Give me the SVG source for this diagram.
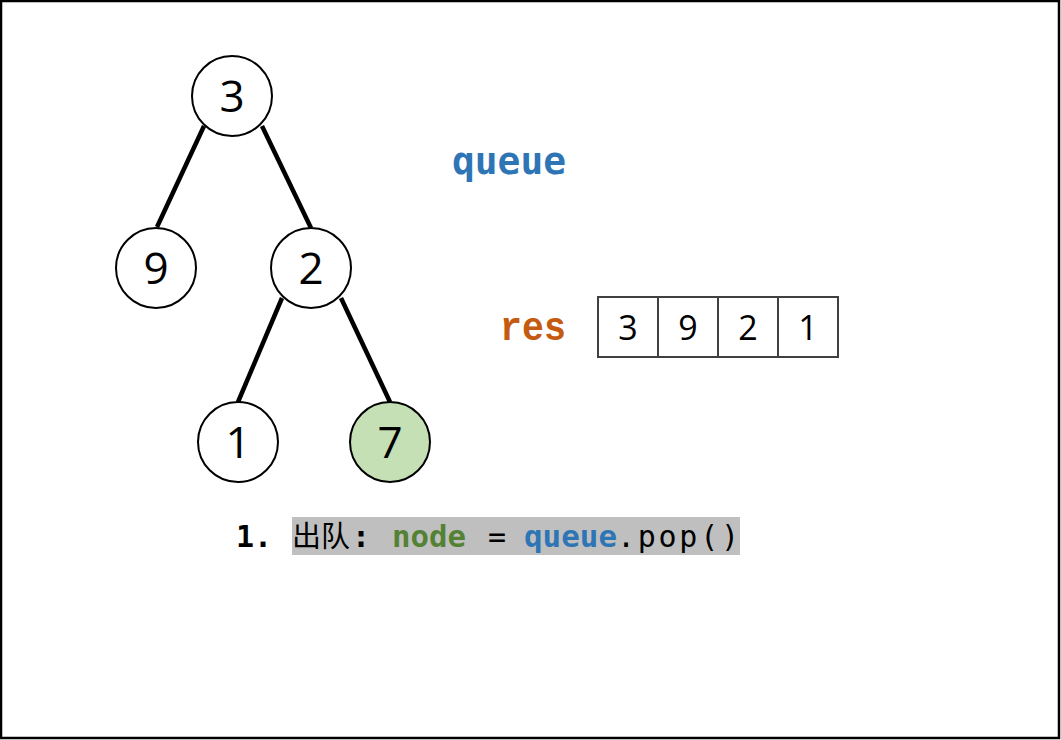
<svg xmlns="http://www.w3.org/2000/svg" width="1061" height="740" viewBox="0 0 1061 740">
<style>
.node circle{fill:#fff;stroke:#000;stroke-width:2}
.node text{font-family:"Open Sans","Liberation Sans",sans-serif;font-size:44px;text-anchor:middle;fill:#000}
.edge{stroke:#000;stroke-width:4.5;stroke-linecap:butt}
.cell rect{fill:#fff;stroke:#404040;stroke-width:2}
.cell text{font-family:"Open Sans","Liberation Sans",sans-serif;font-size:34px;text-anchor:middle;fill:#000}
.mono{font-family:"DejaVu Sans Mono","Liberation Mono",monospace;font-size:30px}
.b{font-weight:bold}
</style>
<rect x="1" y="1" width="1058" height="737" fill="#fff" stroke="#000" stroke-width="2.5"/>
<g id="connectors">
<line class="edge" x1="204" y1="126" x2="157" y2="227"/>
<line class="edge" x1="262" y1="126" x2="311" y2="228"/>
<line class="edge" x1="282" y1="298" x2="238" y2="402"/>
<line class="edge" x1="341" y1="298" x2="390" y2="402"/>
</g>
<g id="node3" class="node"><circle cx="232" cy="96" r="40"/><text x="232" y="112">3</text></g>
<g id="node9" class="node"><circle cx="156" cy="268" r="40"/><text x="156" y="284">9</text></g>
<g id="node2" class="node"><circle cx="311" cy="268" r="40"/><text x="311" y="284">2</text></g>
<g id="node1" class="node"><circle cx="238" cy="442" r="40"/><text x="238" y="458">1</text></g>
<g id="node7" class="node"><circle cx="390" cy="442" r="40" style="fill:#c5e0b4"/><text x="390" y="458">7</text></g>
<g id="queue-label"><text x="452" y="174" font-family="DejaVu Sans Mono,monospace" font-weight="bold" font-size="37" fill="#2e75b6" textLength="114" lengthAdjust="spacingAndGlyphs">queue</text></g>
<g id="res-label"><text x="500" y="340" font-family="Liberation Mono,Courier New,monospace" font-weight="bold" font-size="40" fill="#c55a11" textLength="66" lengthAdjust="spacingAndGlyphs">res</text></g>
<g id="res-array">
<g class="cell"><rect x="598" y="297" width="60" height="60"/><text x="628" y="340">3</text></g>
<g class="cell"><rect x="658" y="297" width="60" height="60"/><text x="688" y="340">9</text></g>
<g class="cell"><rect x="718" y="297" width="60" height="60"/><text x="748" y="340">2</text></g>
<g class="cell"><rect x="778" y="297" width="60" height="60"/><text x="808" y="340">1</text></g>
</g>
<g id="step">
<text class="mono b" x="236" y="547">1.</text>
<rect x="292" y="517" width="448" height="38" fill="#bfbfbf"/>
<text x="292" y="547" font-family="Noto Sans CJK SC,sans-serif" font-size="29" fill="#000">出队</text>
<text class="mono b" x="352" y="547">:</text>
<text class="mono b" x="392" y="547" fill="#548235" textLength="74" lengthAdjust="spacingAndGlyphs">node</text>
<text class="mono" x="488" y="547">=</text>
<text class="mono b" x="524" y="547" fill="#2e75b6" textLength="93" lengthAdjust="spacingAndGlyphs">queue</text>
<text class="mono" x="617" y="547" textLength="122" lengthAdjust="spacing">.pop()</text>
</g>
</svg>
